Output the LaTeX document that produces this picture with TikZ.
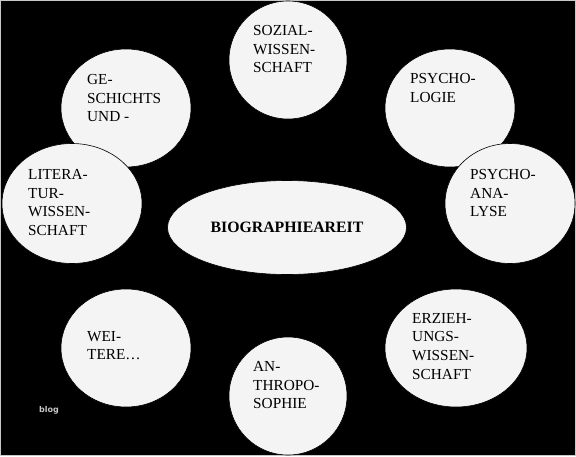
\documentclass[tikz,border=0pt]{standalone}
\usepackage{fontspec}
\setmainfont{Liberation Serif}
\newfontfamily\blogfont{DejaVu Sans}
\usetikzlibrary{shapes.geometric}
\definecolor{blobgray}{RGB}{244,244,244}
\definecolor{framegray}{RGB}{200,200,200}
\begin{document}
\begin{tikzpicture}[x=1pt,y=-1pt,
  blob/.style={ellipse,fill=blobgray,draw=black,line width=0.6pt,inner sep=0pt},
  blobtext/.style={anchor=north west,inner sep=0pt,align=left,font=\fontsize{15.3}{18.7}\selectfont}]
 \useasboundingbox (0,0) rectangle (576,456);
 \fill[black] (0,0) rectangle (576,456);
 \draw[framegray,line width=1pt] (0.5,0.5) rectangle (575.5,455.5);
 % bubbles
 \node[blob,minimum width=118pt,minimum height=118pt] (sozial) at (288,60) {};
 \node[blob,minimum width=130pt,minimum height=118pt] (gesch) at (126,108) {};
 \node[blob,minimum width=130pt,minimum height=118pt] (psychol) at (450,108) {};
 \node[blob,minimum width=140pt,minimum height=120pt] (liter) at (72,203.5) {};
 \node[blob,minimum width=130pt,minimum height=120pt] (psychoan) at (510,203.5) {};
 \node[blob,minimum width=239pt,minimum height=94pt,font=\fontsize{15.8}{18}\selectfont\bfseries] (bio) at (287,227.5) {BIOGRAPHIEAREIT};
 \node[blob,minimum width=130pt,minimum height=118pt] (weitere) at (126,348) {};
 \node[blob,minimum width=118pt,minimum height=118pt] (anthro) at (288,396) {};
 \node[blob,minimum width=142pt,minimum height=118pt] (erzieh) at (456,348) {};
 % texts
 \node[blobtext] (sozial-t) at (253,25) {SOZIAL-\\WISSEN-\\SCHAFT};
 \node[blobtext] (gesch-t) at (87,74) {GE-\\SCHICHTS\\UND -};
 \node[blobtext] (psychol-t) at (410,73) {PSYCHO-\\LOGIE};
 \node[blobtext] (liter-t) at (28,169) {LITERA-\\TUR-\\WISSEN-\\SCHAFT};
 \node[blobtext] (psychoan-t) at (470,169) {PSYCHO-\\ANA-\\LYSE};
 \node[blobtext] (weitere-t) at (87,331) {WEI-\\TERE\dots};
 \node[blobtext] (anthro-t) at (253,361) {AN-\\THROPO-\\SOPHIE};
 \node[blobtext] (erzieh-t) at (412,313) {ERZIEH-\\UNGS-\\WISSEN-\\SCHAFT};
 \node[text=framegray,inner sep=0pt,font=\fontsize{8}{8}\blogfont\bfseries] (blog) at (49,410.5) {blog};
\end{tikzpicture}
\end{document}
